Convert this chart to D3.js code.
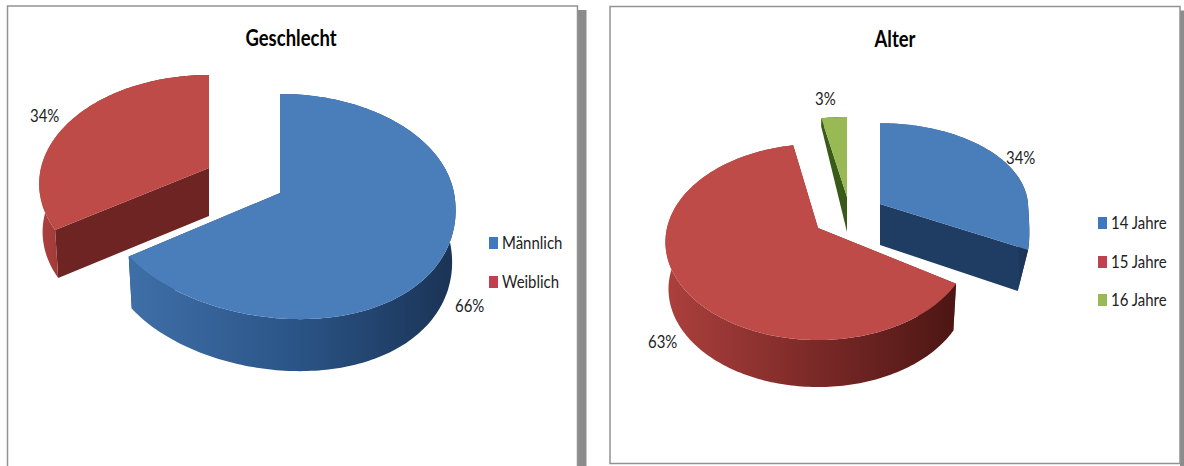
<!DOCTYPE html>
<html>
<head>
<meta charset="UTF-8">
<title>Geschlecht und Alter</title>
<script src="https://cdnjs.cloudflare.com/ajax/libs/d3/7.8.5/d3.min.js"></script>
<style>
  html, body { margin: 0; padding: 0; background: #fff; }
  svg { display: block; }
  text { font-family: Lato, "Open Sans", sans-serif; fill: #222; }
</style>
</head>
<body>
<svg id="chart" width="1184" height="466"></svg>
<script>
// values
var genderLabels = ["Männlich", "Weiblich"];
var genderValues = [66, 34];
var ageLabels = ["14 Jahre", "15 Jahre", "16 Jahre"];
var ageValues = [34, 63, 3];

var blue = {top: "#4a7ebb", left: "#3f6fa8", mid: "#2b5588", right: "#1a3355", face: "#1f3d63", key: "#4078c0"};
var red = {top: "#be4b48", left: "#ac403d", mid: "#7c2a28", right: "#4c1613", face: "#6e2422", key: "#c0404f"};
var green = {top: "#98b954", left: "#3a5a1a", mid: "#3a5a1a", right: "#3a5a1a", face: "#3a5a1a", key: "#98b954"};

var svg = d3.select("#chart");
var defs = svg.append("defs");
var gradId = 0;

function frame(x, y, w, h, sx) {
  svg.append("rect").attr("x", x + w).attr("y", y + 4).attr("width", sx).attr("height", h).attr("fill", "#8c8c8c");
  svg.append("rect").attr("x", x).attr("y", y).attr("width", w).attr("height", h)
    .attr("fill", "#fff").attr("stroke", "#929292").attr("stroke-width", 1.5);
}

// pie seen in perspective: apex stays the centre of the slice fan,
// lean pushes the near half of the pie to the right
function projector(s) {
  return function(a, r, down) {
    var u = Math.sin(a) * r, v = -Math.cos(a) * r, w = 1 - s.p * v;
    var near = Math.max(v, 0);
    var x = s.cx + s.rx * u / w + (s.lean || 0) * near * near, y = s.cy + s.ry * v / w;
    if (down) {
      var rimDepth = s.rimDepth === undefined ? s.depth : s.rimDepth;
      x = s.cx + (x - s.cx) * s.shrink;
      y += s.depth + (rimDepth - s.depth) * r;
    }
    return [x, y];
  };
}

function drawSlice(d, s, col) {
  var pr = projector(s);
  var steps = d3.range(d.startAngle, d.endAngle, 0.02).concat([d.endAngle]);
  var g = svg.append("g");

  // cut faces first, the rim goes over them and the top over everything
  [d.startAngle, d.endAngle].forEach(function(a) {
    var pts = [pr(a, 0), pr(a, 1), pr(a, 1, true), pr(a, 0, true)];
    g.append("path").attr("d", d3.line()(pts) + "Z").attr("fill", col.face);
  });

  var id = "rim" + (gradId++);
  var xs = steps.map(function(a) { return pr(a, 1)[0]; });
  var grad = defs.append("linearGradient").attr("id", id).attr("gradientUnits", "userSpaceOnUse")
    .attr("x1", d3.min(xs)).attr("x2", d3.max(xs)).attr("y1", 0).attr("y2", 0);
  grad.append("stop").attr("offset", "0%").attr("stop-color", col.left);
  grad.append("stop").attr("offset", "50%").attr("stop-color", col.mid);
  grad.append("stop").attr("offset", "100%").attr("stop-color", col.right);

  var upper = steps.map(function(a) { return pr(a, 1); });
  var lower = steps.map(function(a) { return pr(a, 1, true); }).reverse();
  g.append("path").attr("d", d3.line()(upper.concat(lower)) + "Z").attr("fill", "url(#" + id + ")");

  var topPts = [pr(0, 0)].concat(upper);
  g.append("path").attr("d", d3.line()(topPts) + "Z").attr("fill", col.top);
}

function drawPie(values, colors, slices) {
  var arcs = d3.pie().sort(null)(values);
  // the back slices go first
  arcs.map(function(d, i) { return {d: d, i: i}; })
    .sort(function(a, b) { return slices[a.i].order - slices[b.i].order; })
    .forEach(function(o) { drawSlice(o.d, slices[o.i], colors[o.i]); });
}

function squeezed(x, y, str, size, weight, anchor, sx) {
  svg.append("text").attr("transform", "translate(" + x + "," + y + ") scale(" + (sx || 0.88) + ",1)")
    .attr("text-anchor", anchor || "start").attr("font-size", size)
    .attr("font-weight", weight || 400)
    .style("fill", weight ? "#000" : null).text(str);
}

function legend(labels, colors, x, ys) {
  labels.forEach(function(l, i) {
    svg.append("rect").attr("x", x).attr("y", ys[i] - 6).attr("width", 9).attr("height", 12).attr("fill", colors[i].key);
    squeezed(x + 13, ys[i] + 6, l, 17);
  });
}

frame(7.5, 6, 570, 470, 9);
frame(610, 6.5, 570, 457, 4);

squeezed(291, 46, "Geschlecht", 22, 700, "middle", 0.84);
squeezed(895, 47, "Alter", 22, 700, "middle", 0.84);

drawPie(genderValues, [blue, red], [
  {cx: 280, cy: 193, rx: 174, ry: 111, p: 0.12, lean: 20, depth: 52, shrink: 0.98, order: 1},
  {cx: 209, cy: 168, rx: 168, ry: 106.6, p: 0.146, depth: 48, shrink: 0.98, order: 0}
]);
drawPie(ageValues, [blue, red, green], [
  {cx: 880, cy: 204, rx: 148, ry: 84, p: 0.04, lean: 71, depth: 41, shrink: 0.93, order: 0},
  {cx: 818, cy: 228, rx: 151, ry: 96, p: 0.143, depth: 47, shrink: 0.98, order: 2},
  {cx: 847, cy: 197, rx: 150, ry: 88, p: 0.1, depth: 35, rimDepth: 9, shrink: 1, order: 1}
]);

legend(genderLabels, [blue, red], 489, [243, 282]);
legend(ageLabels, [blue, red, green], 1098, [223, 262, 300]);

squeezed(30, 122, "34%", 17);
squeezed(455, 312, "66%", 17);
squeezed(1006, 164, "34%", 17);
squeezed(648, 348, "63%", 17);
squeezed(815, 105, "3%", 17);
</script>
</body>
</html>
